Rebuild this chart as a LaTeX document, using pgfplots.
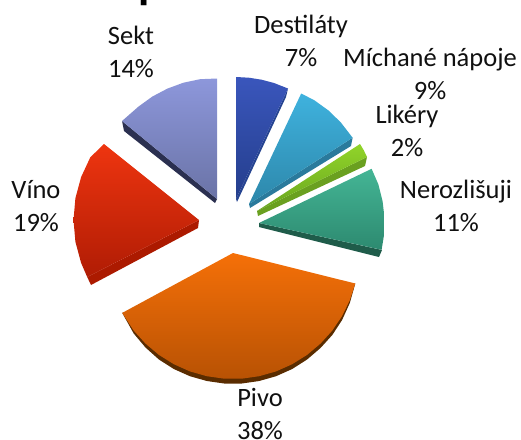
\documentclass[border=0pt]{standalone}
\usepackage{fontspec}
\setmainfont{Carlito}
\usepackage{pgfplots}
\pgfplotsset{compat=1.18}
\definecolor{lab}{HTML}{101010}
\tikzset{lb/.style={text=lab,font=\fontsize{26.5bp}{33bp}\selectfont,align=center,inner sep=0pt}}
\begin{document}
\begin{tikzpicture}
\path[use as bounding box,clip] (0,0) rectangle (521bp,440bp);
\begin{axis}[at={(0,0)},anchor=south west,scale only axis,width=521bp,height=440bp,
  xmin=0,xmax=521,ymin=0,ymax=440,y dir=reverse,axis lines=none,clip=false,
  every axis plot/.append style={draw=none,line width=0pt}]
% Destilaty
\addplot[fill={rgb,255:red,38;green,68;blue,145}] coordinates {(288,88.5)(286,97)(237,202)(236,199)} --cycle;
\addplot[top color={rgb,255:red,58;green,86;blue,188},bottom color={rgb,255:red,36;green,62;blue,140}] coordinates {(236,77)(248.9,77.7)(261.6,79.7)(274,83)(288,88.5)(236,199)} --cycle;
% Michane
\addplot[fill={rgb,255:red,42;green,122;blue,156}] coordinates {(352.6,137.7)(351,146)(250,208)(249,204)} --cycle;
\addplot[top color={rgb,255:red,63;green,178;blue,222},bottom color={rgb,255:red,45;green,135;blue,170}] coordinates {(301.2,93.5)(314.4,100.3)(328.4,110.4)(340.8,122.4)(352.6,137.7)(249,204)} --cycle;
% Likery
\addplot[fill={rgb,255:red,106;green,160;blue,32}] coordinates {(367,157)(365,166)(258,216)(257,211)} --cycle;
\addplot[top color={rgb,255:red,145;green,212;blue,42},bottom color={rgb,255:red,105;green,165;blue,30}] coordinates {(360,144)(363.8,150.3)(367,157)(257,211)} --cycle;
% Nerozlisuji
\addplot[fill={rgb,255:red,31;green,92;blue,74}] coordinates {(382,250)(379,257)(259,227)(259,223)} --cycle;
\addplot[top color={rgb,255:red,68;green,181;blue,149},bottom color={rgb,255:red,45;green,138;blue,112}] coordinates {(371.6,168.8)(378.4,184.4)(382.6,201.3)(384.6,218.6)(384.2,233.9)(381.6,249.8)(259,223)} --cycle;
% Pivo
\addplot[fill={rgb,255:red,90;green,44;blue,0}] coordinates {(355.3,283.5)(349.8,303)(342.1,320)(332.3,335)(320.5,348)(307.1,359.5)(292.2,369)(276.1,376.2)(259.2,381)(241.8,383.5)(224.2,383.5)(206.8,381)(189.9,376.2)(173.8,369)(158.9,359.5)(145.5,347.5)(133.7,333.5)(122.2,312.9)} --cycle;
\addplot[top color={rgb,255:red,245;green,112;blue,8},bottom color={rgb,255:red,184;green,82;blue,4}] coordinates {(233,253)(355.3,283.5)(349.8,300.2)(342.1,316)(332.3,330.6)(320.5,343.6)(307.1,354.9)(292.2,364.2)(276.1,371.4)(259.2,376.2)(241.8,378.7)(224.2,378.7)(206.8,376.2)(189.9,371.4)(173.8,364.2)(158.9,354.9)(145.5,343.6)(133.7,330.6)(122.2,312.9)} --cycle;
% Vino
\addplot[fill={rgb,255:red,172;green,26;blue,0}] coordinates {(199,220)(198,228)(91,285)(87.2,277)} --cycle;
\addplot[top color={rgb,255:red,238;green,53;blue,16},bottom color={rgb,255:red,176;green,28;blue,4}] coordinates {(104,144)(90.3,157.3)(81.1,177.1)(75.4,198.2)(73.5,220)(75.4,241.8)(81.1,262.9)(87.2,277)(199,220)} --cycle;
% Sekt
\addplot[fill={rgb,255:red,43;green,48;blue,80}] coordinates {(122,121)(124,131)(215,203)(217,199)} --cycle;
\addplot[top color={rgb,255:red,141;green,151;blue,219},bottom color={rgb,255:red,106;green,115;blue,166}] coordinates {(217,78.5)(200,79.2)(183.4,82.7)(167.4,88.6)(152.4,96.5)(138.6,106.5)(122,121)(217,199)} --cycle;
\node[lb] at (axis cs:301,41) {Destiláty\\7\%};
\node[lb] at (axis cs:430,73.5) {Míchané nápoje\\9\%};
\node[lb] at (axis cs:407,131) {Likéry\\2\%};
\node[lb] at (axis cs:456,206) {Nerozlišuji\\11\%};
\node[lb] at (axis cs:131,51.5) {Sekt\\14\%};
\node[lb] at (axis cs:36,206) {Víno\\19\%};
\node[lb] at (axis cs:260,414) {Pivo\\38\%};
\node[anchor=base west,inner sep=0pt,text=black,font=\fontsize{46bp}{46bp}\selectfont\bfseries] at (axis cs:138,-2) {p};
\end{axis}
\end{tikzpicture}
\end{document}
